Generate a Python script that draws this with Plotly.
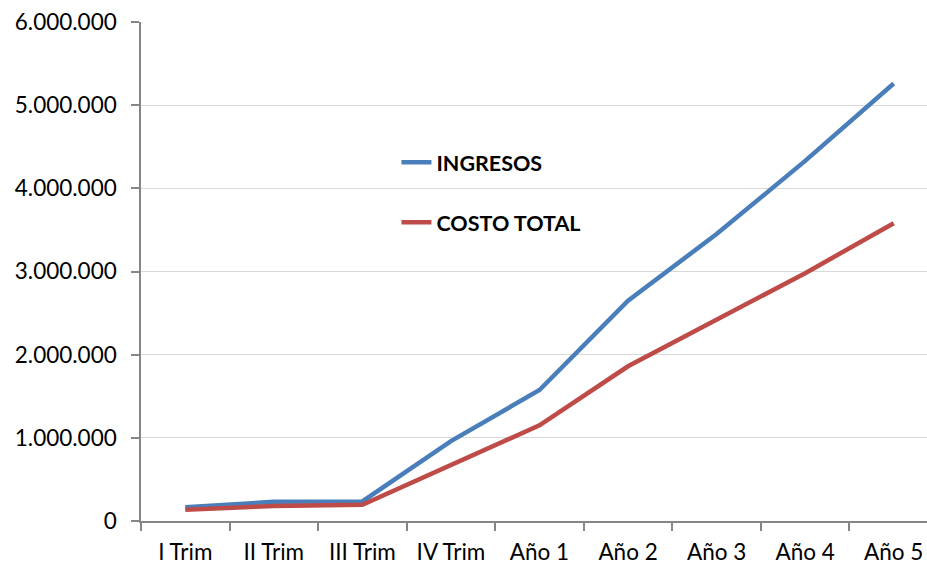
import plotly.graph_objects as go

# Periods on the horizontal axis
periodos = ["I Trim", "II Trim", "III Trim", "IV Trim", "Año 1", "Año 2", "Año 3", "Año 4", "Año 5"]

# Revenue and total cost per period
ingresos = [165000, 230000, 235000, 960000, 1575000, 2650000, 3450000, 4330000, 5260000]
costo_total = [135000, 180000, 195000, 670000, 1150000, 1860000, 2420000, 2980000, 3580000]

y_ticks = [0, 1000000, 2000000, 3000000, 4000000, 5000000, 6000000]

FONT = "Lato, 'Open Sans', sans-serif"
AXIS_GREY = "#868686"

fig = go.Figure()
fig.add_trace(go.Scatter(
    x=periodos, y=ingresos, mode="lines", name="INGRESOS",
    legendgroup="a",
    line=dict(color="#4A7EBB", width=4.5),
))
fig.add_trace(go.Scatter(
    x=periodos, y=costo_total, mode="lines", name="COSTO TOTAL",
    legendgroup="b",
    line=dict(color="#BE4B48", width=4.5),
))

fig.update_layout(
    width=927, height=565,
    margin=dict(l=141, r=0, t=22, b=44),
    paper_bgcolor="white", plot_bgcolor="white",
    separators=",.",
    font=dict(family=FONT, size=22.5, color="#000000"),
    showlegend=True,
    legend=dict(
        x=0.325, y=0.76, xanchor="left", yanchor="top",
        bgcolor="rgba(0,0,0,0)",
        font=dict(family=FONT, size=21.5, color="#000000", weight="bold"),
        tracegroupgap=29,
        traceorder="grouped",
    ),
)

fig.update_xaxes(
    type="category",
    range=[-0.5, 8.376],
    showline=True, linecolor=AXIS_GREY, linewidth=1.5,
    ticks="outside", tickson="boundaries", ticklen=8, tickcolor=AXIS_GREY, tickwidth=1.5,
    ticklabelstandoff=10,
    showgrid=False,
    tickfont=dict(family=FONT, size=22.5, color="#000000"),
)
fig.update_yaxes(
    range=[0, 6000000],
    tickvals=y_ticks,
    tickformat=",d",
    showline=True, linecolor=AXIS_GREY, linewidth=1.5,
    ticks="outside", ticklen=8, tickcolor=AXIS_GREY, tickwidth=1.5,
    ticklabelstandoff=10,
    showgrid=True, gridcolor="#D9D9D9", gridwidth=1,
    zeroline=False,
    tickfont=dict(family=FONT, size=22.5, color="#000000"),
)

fig.write_html("out.html")
